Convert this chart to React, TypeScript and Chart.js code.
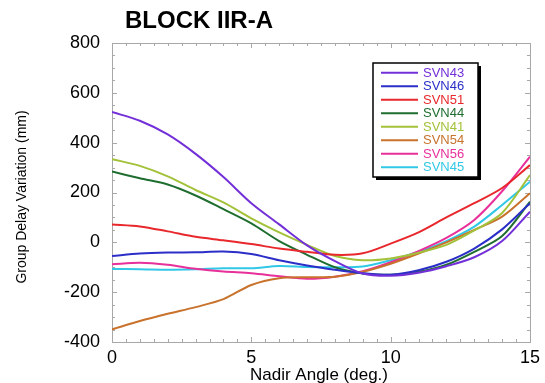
import React, { useEffect, useRef } from "react";
import { Chart, registerables } from "chart.js";

Chart.register(...registerables);

// Nadir angle samples (deg.)
const ANGLES = [0, 1, 2, 3, 4, 5, 6, 7, 8, 9, 10, 11, 12, 13, 14, 15];

// Group delay variation per satellite (mm)
const SVN43 = [523, 488, 433, 355, 262, 157, 72, -12, -75, -125, -134, -122, -96, -60, 5, 123];
const SVN46 = [-55, -45, -41, -40, -37, -47, -72, -93, -110, -124, -130, -112, -78, -25, 52, 157];
const SVN51 = [72, 64, 44, 22, 8, -7, -25, -38, -50, -44, -5, 40, 100, 157, 218, 310];
const SVN44 = [284, 257, 232, 188, 133, 76, 5, -50, -100, -125, -130, -118, -90, -38, 25, 163];
const SVN41 = [334, 307, 265, 210, 160, 96, 40, -10, -55, -72, -65, -42, -10, 48, 118, 270];
const SVN54 = [-349, -316, -287, -260, -228, -171, -144, -140, -138, -118, -86, -45, 0, 50, 103, 197];
const SVN56 = [-88, -82, -90, -106, -117, -124, -136, -146, -138, -116, -80, -35, 18, 90, 205, 344];
const SVN45 = [-107, -108, -110, -108, -104, -104, -95, -99, -100, -97, -72, -38, 5, 63, 150, 243];

const SERIES_NAMES = ["SVN43", "SVN46", "SVN51", "SVN44", "SVN41", "SVN54", "SVN56", "SVN45"];
const SERIES_VALUES = [SVN43, SVN46, SVN51, SVN44, SVN41, SVN54, SVN56, SVN45];
const SERIES_COLORS = [
  "#7330d8",
  "#2b2fc8",
  "#e8282c",
  "#1f6e30",
  "#a3c23a",
  "#c8722c",
  "#e8309a",
  "#30c8e6",
];

const TITLE = "BLOCK IIR-A";
const X_TITLE = "Nadir Angle (deg.)";
const Y_TITLE = "Group Delay Variation (mm)";

const FONT = "'Liberation Sans', Arial, Helvetica, sans-serif";

// Box around the plot with small inward tick marks on all four sides
const framePlugin = {
  id: "frame",
  beforeDatasetsDraw(chart: any) {
    const { ctx, chartArea } = chart;
    const { left, right, top, bottom } = chartArea;
    const xs = chart.scales.x;
    const ys = chart.scales.y;
    ctx.save();
    ctx.strokeStyle = "#a8a8a8";
    ctx.lineWidth = 1;
    ctx.strokeRect(left + 0.5, top + 0.5, right - left, bottom - top);
    ctx.beginPath();
    for (let v = 0; v <= 15.0001; v += 0.5) {
      const px = Math.round(xs.getPixelForValue(v)) + 0.5;
      const len = v % 5 === 0 ? 5 : 3;
      ctx.moveTo(px, bottom);
      ctx.lineTo(px, bottom - len);
      ctx.moveTo(px, top);
      ctx.lineTo(px, top + len);
    }
    for (let v = -400; v <= 800; v += 50) {
      const py = Math.round(ys.getPixelForValue(v)) + 0.5;
      const len = v % 200 === 0 ? 5 : 3;
      ctx.moveTo(left, py);
      ctx.lineTo(left + len, py);
      ctx.moveTo(right, py);
      ctx.lineTo(right - len, py);
    }
    ctx.stroke();
    ctx.restore();
  },
};

// Chart heading and axis titles
const titlesPlugin = {
  id: "titles",
  afterDraw(chart: any) {
    const { ctx, chartArea } = chart;
    ctx.save();
    ctx.fillStyle = "#000";
    ctx.textBaseline = "middle";
    ctx.font = `bold 24px ${FONT}`;
    ctx.textAlign = "left";
    ctx.fillText(TITLE, 125, 21);

    ctx.font = `17px ${FONT}`;
    ctx.textAlign = "center";
    ctx.fillText(X_TITLE, (chartArea.left + chartArea.right) / 2 - 2, 375);

    ctx.translate(22, 197);
    ctx.rotate(-Math.PI / 2);
    ctx.font = `14px ${FONT}`;
    ctx.fillText(Y_TITLE, 0, 0);
    ctx.restore();
  },
};

// Boxed legend with a drop shadow inside the plot area
const legendBoxPlugin = {
  id: "legendBox",
  afterDatasetsDraw(chart: any) {
    const { ctx } = chart;
    const x0 = 373;
    const y0 = 63;
    const w = 105;
    const h = 114;
    ctx.save();
    ctx.fillStyle = "#000";
    ctx.fillRect(x0 + 3, y0 + 3, w, h);
    ctx.fillStyle = "#fff";
    ctx.fillRect(x0, y0, w, h);
    ctx.strokeStyle = "#000";
    ctx.lineWidth = 1.5;
    ctx.strokeRect(x0, y0, w, h);
    ctx.font = `13px ${FONT}`;
    ctx.textBaseline = "middle";
    ctx.textAlign = "left";
    chart.data.datasets.forEach((ds: any, i: number) => {
      const y = 72.7 + i * 13.5;
      ctx.strokeStyle = ds.borderColor;
      ctx.lineWidth = 2;
      ctx.beginPath();
      ctx.moveTo(381, y);
      ctx.lineTo(418, y);
      ctx.stroke();
      ctx.fillStyle = ds.borderColor;
      ctx.fillText(ds.label, 423, y + 0.5);
    });
    ctx.restore();
  },
};

export default function App() {
  const canvasRef = useRef<HTMLCanvasElement | null>(null);

  useEffect(() => {
    document.body.style.margin = "0";
    const canvas = canvasRef.current;
    if (!canvas) return;
    const chart = new Chart(canvas, {
      type: "line",
      data: {
        datasets: SERIES_NAMES.map((name, i) => ({
          label: name,
          data: ANGLES.map((a, j) => ({ x: a, y: SERIES_VALUES[i][j] })),
          borderColor: SERIES_COLORS[i],
          backgroundColor: SERIES_COLORS[i],
          borderWidth: 2,
          pointRadius: 0,
          tension: 0.3,
          fill: false,
        })),
      },
      options: {
        responsive: false,
        animation: false,
        devicePixelRatio: 1,
        layout: { padding: { top: 43, right: 9, left: 0, bottom: 0 } },
        plugins: {
          legend: { display: false },
          title: { display: false },
          tooltip: { enabled: false },
        },
        scales: {
          x: {
            type: "linear",
            min: 0,
            max: 15,
            grid: { display: false, drawTicks: false },
            border: { display: false },
            ticks: {
              stepSize: 5,
              padding: 5,
              color: "#000",
              font: { family: FONT, size: 18 },
            },
            afterFit(scale: any) {
              scale.height = 41;
            },
          },
          y: {
            min: -400,
            max: 800,
            grid: { display: false, drawTicks: false },
            border: { display: false },
            ticks: {
              stepSize: 200,
              padding: 12,
              color: "#000",
              font: { family: FONT, size: 18 },
            },
            afterFit(scale: any) {
              scale.width = 112;
            },
          },
        },
      },
      plugins: [framePlugin, legendBoxPlugin, titlesPlugin],
    });
    return () => chart.destroy();
  }, []);

  return (
    <div style={{ width: 545, height: 383, background: "#fff" }}>
      <canvas ref={canvasRef} width={545} height={383} />
    </div>
  );
}
